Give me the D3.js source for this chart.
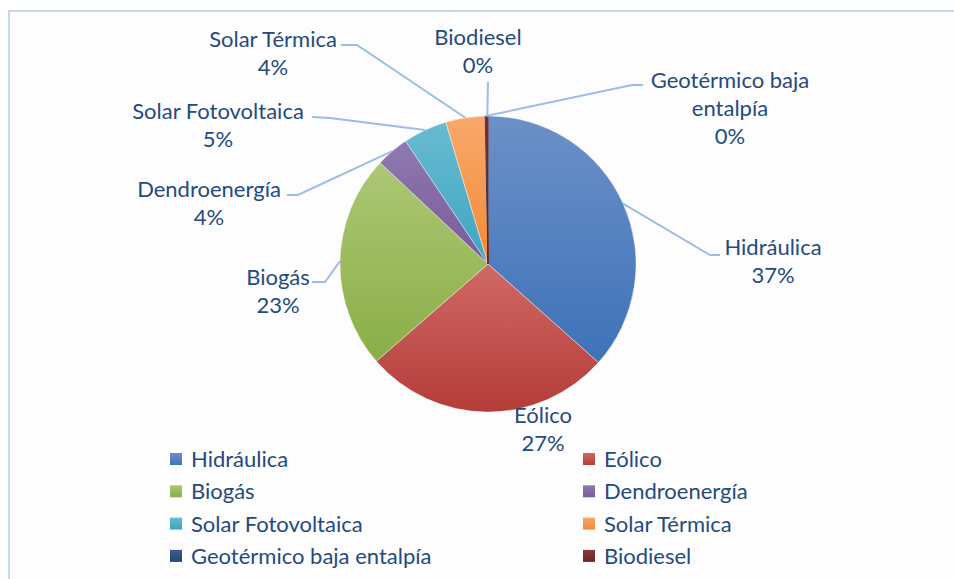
<!DOCTYPE html>
<html>
<head>
<meta charset="utf-8">
<script src="https://cdn.jsdelivr.net/npm/d3@7"></script>
<style>
  body { margin: 0; background: #fff; }
  svg text { font-family: Lato, "Noto Sans", sans-serif; fill: #254a7d; }
</style>
</head>
<body>
<svg id="chart"></svg>
<script>
// slice data, clockwise from 12 o'clock
const categories = ["Hidráulica", "Eólico", "Biogás", "Dendroenergía", "Solar Fotovoltaica", "Solar Térmica", "Geotérmico baja entalpía", "Biodiesel"];
const values = [36.6, 27.0, 23.4, 3.6, 4.8, 4.3, 0.15, 0.15];
const pctLabels = ["37%", "27%", "23%", "4%", "5%", "4%", "0%", "0%"];
const colorsTop = ["#6c90c8", "#d06966", "#adc775", "#9079b0", "#67bbd2", "#f9a86c", "#3a5e8c", "#8c3a37"];
const colorsBottom = ["#3e72b8", "#b43c39", "#8aae46", "#775a9b", "#3fa5c0", "#f38a33", "#254672", "#6e2523"];

// label layout: text anchor point (first line baseline) + leader elbow
const labelLines = [["Hidráulica"], ["Eólico"], ["Biogás"], ["Dendroenergía"], ["Solar Fotovoltaica"], ["Solar Térmica"], ["Geotérmico baja", "entalpía"], ["Biodiesel"]];
const labelPos = [[773, 255], [543, 423], [278, 285], [209, 197], [218, 119], [273, 47], [730, 88], [478, 45]];
const elbows = [[[710, 255], [720, 255]], null, [[325, 282], [312, 282]], [[298, 195], [287, 195]], [[330, 118], [312, 117]], [[357, 45], [341, 45]], [[632, 85], [643, 85]], [[488, 82]]];

const width = 954, height = 579;
const cx = 488, cy = 264, radius = 148;

const svg = d3.select("#chart")
    .attr("width", width)
    .attr("height", height);

// chart area background + frame
svg.append("rect")
    .attr("x", 9).attr("y", 11)
    .attr("width", width - 9).attr("height", height - 11)
    .attr("fill", "#fdfdfd");
svg.append("path")
    .attr("d", `M${9},${height} L${9},${11} L${width},${11}`)
    .attr("fill", "none")
    .attr("stroke", "#c9d8ee")
    .attr("stroke-width", 2);

const defs = svg.append("defs");
categories.forEach(function (c, i) {
    const g = defs.append("linearGradient")
        .attr("id", "grad" + i)
        .attr("x1", 0).attr("y1", 0).attr("x2", 0).attr("y2", 1);
    g.append("stop").attr("offset", "0%").attr("stop-color", colorsTop[i]);
    g.append("stop").attr("offset", "100%").attr("stop-color", colorsBottom[i]);
});

const data = categories.map((c, i) => ({ name: c, value: values[i], i: i }));

const pie = d3.pie().sort(null).value(d => d.value);
const arcs = pie(data);
const arc = d3.arc().innerRadius(0).outerRadius(radius);

const g = svg.append("g").attr("transform", `translate(${cx},${cy})`);

g.selectAll("path")
    .data(arcs)
    .join("path")
    .attr("d", arc)
    .attr("fill", d => "url(#grad" + d.data.i + ")")
    .attr("stroke", d => d.data.value < 1 ? colorsBottom[d.data.i] : "#ffffff")
    .attr("stroke-width", d => d.data.value < 1 ? 1 : 0.4);

// leader lines, starting on the rim at the slice's mid angle
arcs.forEach(function (d) {
    const e = elbows[d.data.i];
    if (!e) return;
    const a = (d.startAngle + d.endAngle) / 2;
    const sx = cx + radius * Math.sin(a);
    const sy = cy - radius * Math.cos(a);
    const pts = [[sx, sy]].concat(e);
    svg.append("path")
        .attr("d", d3.line()(pts))
        .attr("fill", "none")
        .attr("stroke", "#9dbce6")
        .attr("stroke-width", 2);
});

// data labels
const fs = 22, lh = 28;
arcs.forEach(function (d) {
    const i = d.data.i;
    const lines = labelLines[i].concat([pctLabels[i]]);
    const t = svg.append("text")
        .attr("text-anchor", "middle")
        .attr("font-size", fs);
    lines.forEach(function (l, k) {
        t.append("tspan")
            .attr("x", labelPos[i][0])
            .attr("y", labelPos[i][1] + k * lh)
            .text(l);
    });
});

// legend, two columns
const legendX = [170, 583], legendY0 = 459, legendDy = 32.3, sw = 12;
const legend = svg.append("g");
categories.forEach(function (c, i) {
    const col = i % 2, row = Math.floor(i / 2);
    const x = legendX[col], y = legendY0 + row * legendDy;
    legend.append("rect")
        .attr("x", x).attr("y", y - sw / 2)
        .attr("width", sw).attr("height", sw)
        .attr("fill", "url(#grad" + i + ")");
    legend.append("text")
        .attr("x", x + sw + 9)
        .attr("y", y + 8)
        .attr("font-size", fs)
        .text(c);
});
</script>
</body>
</html>
